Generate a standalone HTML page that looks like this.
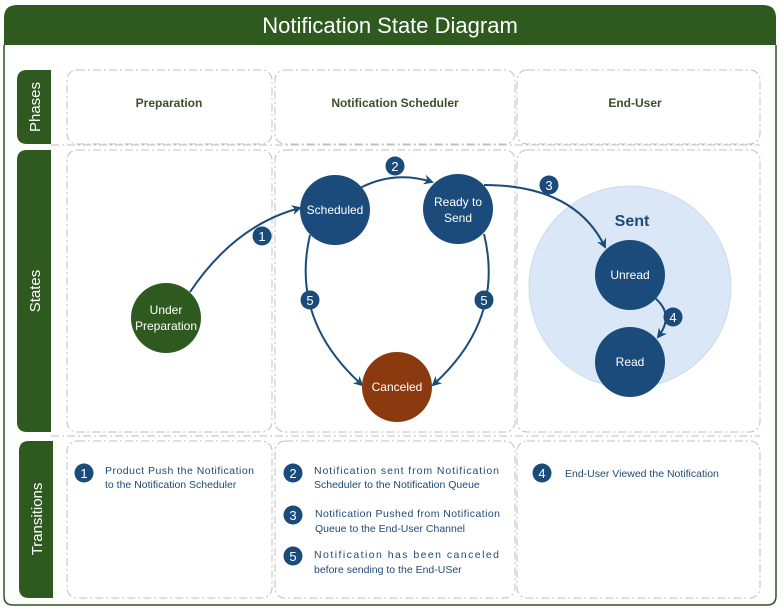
<!DOCTYPE html>
<html><head><meta charset="utf-8"><style>
html,body{margin:0;padding:0;background:#fff;width:782px;height:611px;overflow:hidden}
svg{display:block;font-family:"Liberation Sans",sans-serif}
</style></head><body>
<svg width="782" height="611" viewBox="0 0 782 611" xmlns="http://www.w3.org/2000/svg">
<defs>
<marker id="ar" markerWidth="10" markerHeight="10" refX="8" refY="5" orient="auto" markerUnits="userSpaceOnUse">
<path d="M0,0 L10,5 L0,10 L3,5 z" fill="#1b4b7a"/></marker>
</defs>
<!-- outer -->
<path d="M4,45 L4,596 Q4,605 13,605 L767,605 Q776,605 776,596 L776,45" fill="#fff" stroke="#2f5620" stroke-width="1.5"/>
<path d="M4,45 L4,18 Q4,5 17,5 L763,5 Q776,5 776,18 L776,45 z" fill="#2f5a1f"/>
<text x="390" y="33" text-anchor="middle" font-size="22" fill="#fff">Notification State Diagram</text>
<!-- lane labels -->
<g fill="#2f5a1f">
<path d="M51,70 L27,70 Q17,70 17,80 L17,134 Q17,144 27,144 L51,144 z"/>
<path d="M51,150 L27,150 Q17,150 17,160 L17,422 Q17,432 27,432 L51,432 z"/>
<path d="M53,441 L29,441 Q19,441 19,451 L19,588 Q19,598 29,598 L53,598 z"/>
</g>
<g fill="#fff" font-size="15" text-anchor="middle">
<text transform="translate(40,107) rotate(-90)">Phases</text>
<text transform="translate(40,291) rotate(-90)">States</text>
<text transform="translate(42,519) rotate(-90)">Transitions</text>
</g>
<!-- dashed grid -->
<g fill="none" stroke="#bfbfbf" stroke-width="1" stroke-dasharray="8,3,2,3">
<rect x="67" y="70" width="205" height="74" rx="10"/>
<rect x="275" y="70" width="240" height="74" rx="10"/>
<rect x="517" y="70" width="243" height="74" rx="10"/>
<rect x="67" y="150" width="205" height="282" rx="10"/>
<rect x="275" y="150" width="240" height="282" rx="10"/>
<rect x="517" y="150" width="243" height="282" rx="10"/>
<rect x="67" y="441" width="205" height="157" rx="10"/>
<rect x="275" y="441" width="240" height="157" rx="10"/>
<rect x="517" y="441" width="243" height="157" rx="10"/>
<line x1="51" y1="145" x2="760" y2="145"/>
<line x1="51" y1="436" x2="760" y2="436"/>
</g>
<g font-size="12" font-weight="bold" fill="#3a4f2a" text-anchor="middle">
<text x="169" y="107">Preparation</text>
<text x="395" y="107">Notification Scheduler</text>
<text x="635" y="107">End-User</text>
</g>
<!-- sent -->
<circle cx="630" cy="287" r="101" fill="#dae7f6" stroke="#c9dbef"/>
<text x="632" y="226" text-anchor="middle" font-size="16" font-weight="bold" fill="#1b4b7a">Sent</text>
<!-- connectors -->
<g fill="none" stroke="#1b4b7a" stroke-width="2">
<path d="M190,292 Q235,225 300,208" marker-end="url(#ar)"/>
<path d="M360,188 Q395,170 432,182" marker-end="url(#ar)"/>
<path d="M484,185 Q575,185 605,247" marker-end="url(#ar)"/>
<path d="M310,235 Q290,320 362,385" marker-end="url(#ar)"/>
<path d="M484,234 Q505,320 433,385" marker-end="url(#ar)"/>
<path d="M655,298 Q675,315 658,337" marker-end="url(#ar)"/>
</g>
<!-- nodes -->
<g font-size="12" fill="#fff" text-anchor="middle">
<circle cx="166" cy="318" r="35" fill="#2f5a1f"/>
<text x="166" y="314">Under</text><text x="166" y="330">Preparation</text>
<circle cx="335" cy="210" r="35" fill="#1b4b7a"/>
<text x="335" y="214">Scheduled</text>
<circle cx="458" cy="209" r="35" fill="#1b4b7a"/>
<text x="458" y="206">Ready to</text><text x="458" y="222">Send</text>
<circle cx="397" cy="387" r="35" fill="#8b3a10"/>
<text x="397" y="391">Canceled</text>
<circle cx="630" cy="275" r="35" fill="#1b4b7a"/>
<text x="630" y="279">Unread</text>
<circle cx="630" cy="362" r="35" fill="#1b4b7a"/>
<text x="630" y="366">Read</text>
</g>
<!-- badges -->
<g font-size="13" fill="#fff" text-anchor="middle">
<circle cx="262" cy="236" r="9.5" fill="#1b4b7a"/><text x="262" y="241">1</text>
<circle cx="395" cy="166" r="9.5" fill="#1b4b7a"/><text x="395" y="171">2</text>
<circle cx="549" cy="185" r="9.5" fill="#1b4b7a"/><text x="549" y="190">3</text>
<circle cx="310" cy="300" r="9.5" fill="#1b4b7a"/><text x="310" y="305">5</text>
<circle cx="484" cy="300" r="9.5" fill="#1b4b7a"/><text x="484" y="305">5</text>
<circle cx="673" cy="317" r="9.5" fill="#1b4b7a"/><text x="673" y="322">4</text>
<circle cx="84" cy="473" r="9.5" fill="#1b4b7a"/><text x="84" y="478">1</text>
<circle cx="293" cy="473" r="9.5" fill="#1b4b7a"/><text x="293" y="478">2</text>
<circle cx="293" cy="515" r="9.5" fill="#1b4b7a"/><text x="293" y="520">3</text>
<circle cx="293" cy="556" r="9.5" fill="#1b4b7a"/><text x="293" y="561">5</text>
<circle cx="542" cy="473" r="9.5" fill="#1b4b7a"/><text x="542" y="478">4</text>
</g>
<g font-size="10.5" fill="#1f4a73">
<text x="105" y="474" textLength="149" lengthAdjust="spacing">Product Push the Notification</text>
<text x="105" y="488">to the Notification Scheduler</text>
<text x="314" y="474" textLength="185" lengthAdjust="spacing">Notification sent from Notification</text>
<text x="314" y="488">Scheduler to the Notification Queue</text>
<text x="315" y="517" textLength="185" lengthAdjust="spacing">Notification Pushed from Notification</text>
<text x="315" y="532">Queue to the End-User Channel</text>
<text x="314" y="558" textLength="185" lengthAdjust="spacing">Notification has been canceled</text>
<text x="314" y="573">before sending to the End-USer</text>
<text x="565" y="477">End-User Viewed the Notification</text>
</g>
</svg>
</body></html>
